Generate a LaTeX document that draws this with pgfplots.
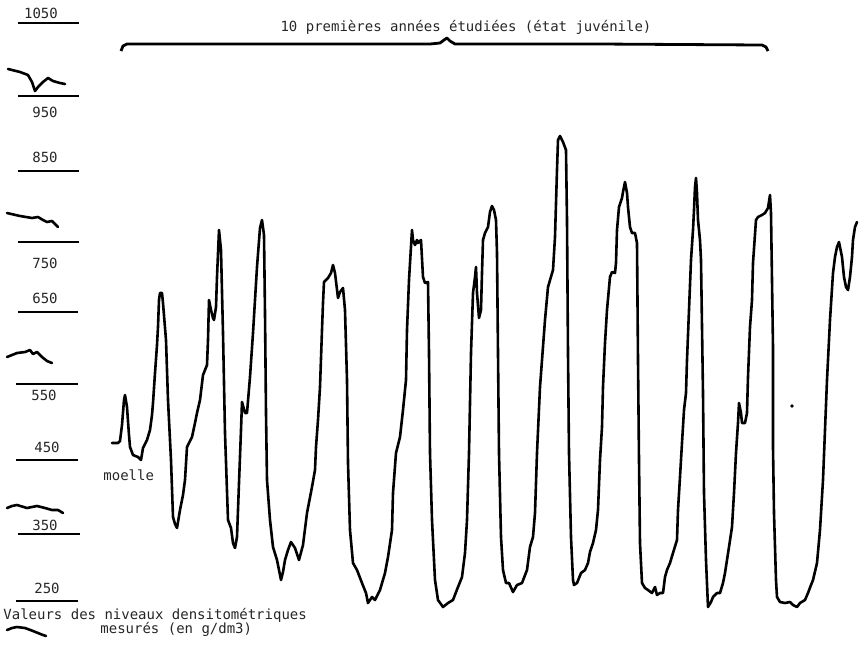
\documentclass[border=0pt]{standalone}
\usepackage{pgfplots}
\pgfplotsset{compat=1.18}
\usepackage{fontspec}
\setmainfont{DejaVu Sans Mono}
\tikzset{lbl/.style={font=\fontsize{7}{8}\selectfont, inner sep=0pt, text=black!85}}
\begin{document}
\begin{tikzpicture}
\begin{axis}[
  scale only axis, width=429.5pt, height=322.5pt,
  xmin=0, xmax=859, ymin=0, ymax=645, y dir=reverse,
  axis line style={draw=none}, xtick=\empty, ytick=\empty,
  clip=false,
]
% densitometric trace
\addplot[black, line width=1.3pt, line join=round, line cap=round] coordinates {
(112,443) (118,443) (120,441) (122,425) (124,400) (125,395) (127,407) (129,435) (130,447) (133,455) (138,457) (141,460) (143,448) (147,440) (150,430) (152,415) (153,403) (155,373) (157,345) (158,327) (159,300) (160,293) (162,293) (163,303) (166,340) (168,400) (171,460) (173,517) (175,524) (177,528) (180,510) (183,495) (185,480) (187,447) (192,437) (195,423) (197,413) (200,400) (203,375) (207,365) (208,340) (209,300) (211,310) (213,318) (214,320) (216,307) (217,277) (219,230) (221,250) (223,333) (225,433) (228,520) (231,528) (233,543) (235,548) (237,537) (239,483) (241,430) (242,402) (245,413) (247,413) (250,377) (253,333) (257,267) (260,228) (262,220) (264,235) (265,313) (266,413) (267,480) (270,520) (273,547) (277,560) (281,580) (283,572) (285,560) (288,550) (291,542) (295,548) (299,560) (303,545) (307,513) (312,487) (315,470) (316,447) (318,420) (320,387) (322,330) (323,303) (324,282) (328,278) (331,273) (333,265) (335,273) (338,298) (340,292) (343,288) (345,310) (347,380) (348,463) (350,530) (353,563) (357,570) (362,583) (366,593) (368,603) (372,597) (375,600) (380,590) (385,573) (388,557) (392,530) (393,493) (396,453) (400,437) (403,410) (406,380) (407,330) (409,280) (412,230) (413,240) (415,245) (417,240) (418,243) (421,240) (423,277) (425,283) (428,282) (429,353) (430,453) (432,520) (435,580) (438,600) (443,607) (448,603) (453,600) (458,587) (462,577) (465,553) (467,520) (469,453) (471,353) (473,293) (475,277) (476,267) (477,293) (479,318) (481,310) (482,273) (483,240) (485,233) (488,227) (490,212) (492,206) (494,210) (496,220) (497,253) (498,353) (499,453) (501,537) (503,570) (506,583) (509,583) (513,592) (517,585) (522,583) (527,570) (530,547) (533,537) (535,513) (537,453) (540,387) (545,320) (548,287) (553,270) (555,237) (557,170) (558,140) (560,136) (563,142) (566,150) (567,220) (568,353) (569,453) (571,537) (573,580) (574,585) (577,583) (581,573) (585,570) (588,563) (590,552) (593,543) (596,530) (598,510) (600,460) (602,427) (603,387) (605,343) (607,310) (610,277) (612,272) (615,273) (616,263) (617,230) (619,207) (622,198) (623,192) (625,182) (627,193) (628,207) (630,227) (632,233) (635,233) (637,243) (638,360) (639,460) (640,543) (642,583) (645,588) (648,590) (652,593) (655,587) (657,595) (660,593) (663,593) (665,577) (667,570) (670,563) (673,553) (677,540) (678,510) (680,477) (682,443) (684,410) (686,393) (687,360) (689,310) (691,260) (693,230) (694,210) (695,187) (696,178) (697,193) (698,220) (700,240) (701,260) (703,393) (704,493) (706,560) (708,607) (711,602) (713,597) (717,593) (720,593) (723,583) (725,573) (727,560) (729,547) (732,527) (734,493) (736,453) (738,423) (739,403) (741,413) (742,423) (745,423) (747,413) (748,377) (750,327) (752,300) (753,263) (756,220) (758,217) (762,215) (765,213) (768,208) (770,195) (771,213) (772,280) (773,347) (773,447) (774,513) (776,580) (777,597) (780,602) (785,603) (790,602) (793,605) (797,607) (800,603) (805,600) (808,593) (811,585) (813,580) (817,563) (820,530) (823,480) (825,430) (827,380) (830,320) (833,273) (835,257) (837,247) (839,242) (842,257) (844,277) (846,287) (848,290) (850,277) (852,257) (853,240) (855,227) (857,222)
};
\addplot[only marks, mark=*, mark size=0.6pt, black] coordinates {(792,406)};
% brace over the first ten years
\addplot[black, line width=1.4pt, line join=round] coordinates {
(121,51) (123,46) (127,44) (300,44) (430,44) (440,43) (444,40) (447,38) (450,41) (455,44) (600,44) (762,45) (766,47) (768,51)};
% scale lines
\addplot[black, line width=1.4pt] coordinates {(18,23) (79,23)};
\addplot[black, line width=1.4pt] coordinates {(18,96) (79,96)};
\addplot[black, line width=1.4pt] coordinates {(18,171) (79,171)};
\addplot[black, line width=1.4pt] coordinates {(18,242) (79,242)};
\addplot[black, line width=1.4pt] coordinates {(18,312) (78,312)};
\addplot[black, line width=1.4pt] coordinates {(16,384) (78,384)};
\addplot[black, line width=1.4pt] coordinates {(16,460) (78,460)};
\addplot[black, line width=1.4pt] coordinates {(18,534) (80,534)};
\addplot[black, line width=1.4pt] coordinates {(16,601) (78,601)};
% scale squiggles
\addplot[black, line width=1.3pt, line join=round, line cap=round] coordinates {(8,69) (20,72) (28,75) (32,82) (35,91) (38,87) (43,82) (48,78) (53,81) (60,83) (65,84)};
\addplot[black, line width=1.3pt, line join=round, line cap=round] coordinates {(7,213) (20,216) (32,218) (38,217) (43,220) (47,222) (52,221) (55,224) (58,227)};
\addplot[black, line width=1.3pt, line join=round, line cap=round] coordinates {(7,357) (12,355) (17,353) (25,352) (30,350) (33,354) (37,352) (42,357) (47,361) (52,363)};
\addplot[black, line width=1.3pt, line join=round, line cap=round] coordinates {(7,508) (12,506) (17,505) (27,508) (37,506) (45,508) (52,510) (58,510) (63,513)};
\addplot[black, line width=1.3pt, line join=round, line cap=round] coordinates {(7,630) (12,628) (17,627) (25,628) (33,631) (43,635) (46,636)};
% labels
\node[lbl, anchor=base] at (axis cs:41,18) {1050};
\node[lbl, anchor=base] at (axis cs:45,117) {950};
\node[lbl, anchor=base] at (axis cs:45,162) {850};
\node[lbl, anchor=base] at (axis cs:45,268) {750};
\node[lbl, anchor=base] at (axis cs:45,303) {650};
\node[lbl, anchor=base] at (axis cs:44,400) {550};
\node[lbl, anchor=base] at (axis cs:47,452) {450};
\node[lbl, anchor=base] at (axis cs:45,530) {350};
\node[lbl, anchor=base] at (axis cs:47,593) {250};
\node[lbl, anchor=base] at (axis cs:466,31) {10 premières années étudiées (état juvénile)};
\node[lbl, anchor=base west] at (axis cs:103,480) {moelle};
\node[lbl, anchor=base west] at (axis cs:3,619) {Valeurs des niveaux densitométriques};
\node[lbl, anchor=base west] at (axis cs:100,633) {mesurés (en g/dm3)};
\end{axis}
\end{tikzpicture}
\end{document}
